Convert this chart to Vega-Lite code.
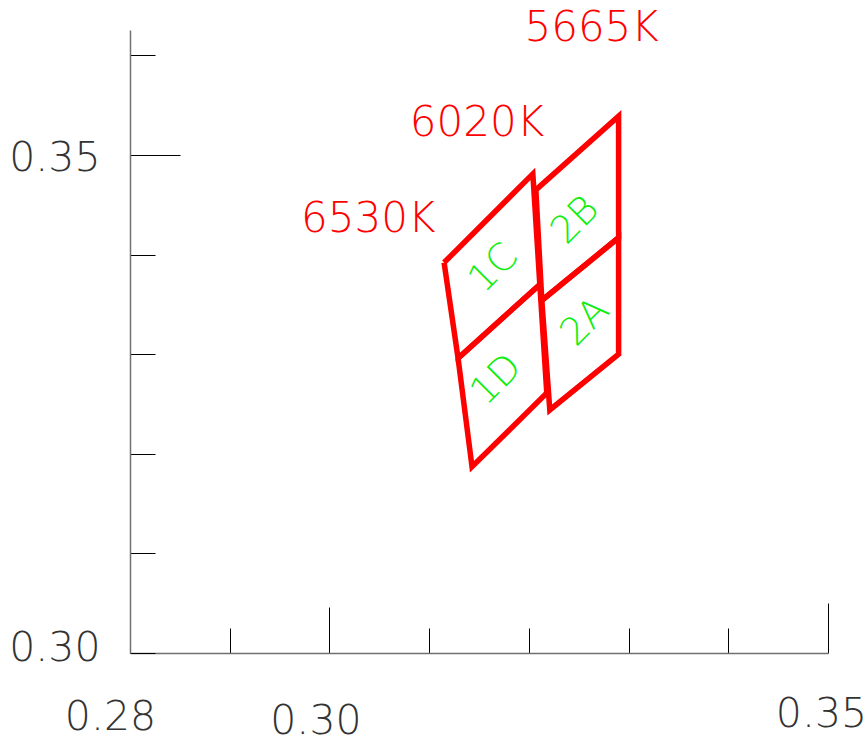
{
  "$schema": "https://vega.github.io/schema/vega-lite/v6.json",
  "width": 698,
  "height": 623,
  "autosize": "none",
  "padding": {"left": 130, "top": 30, "right": 40, "bottom": 91},
  "background": "white",
  "config": {"view": {"stroke": null}, "font": "DejaVu Sans"},
  "datasets": {
    "bins": [
      {"bin": "1C", "i": 0, "x": 0.3115, "y": 0.3392},
      {"bin": "1C", "i": 1, "x": 0.3204, "y": 0.3481},
      {"bin": "1C", "i": 2, "x": 0.3211, "y": 0.3370},
      {"bin": "1C", "i": 3, "x": 0.3129, "y": 0.3296},
      {"bin": "1C", "i": 4, "x": 0.3115, "y": 0.3392},
      {"bin": "1D", "i": 0, "x": 0.3129, "y": 0.3296},
      {"bin": "1D", "i": 1, "x": 0.3211, "y": 0.3370},
      {"bin": "1D", "i": 2, "x": 0.3218, "y": 0.3261},
      {"bin": "1D", "i": 3, "x": 0.3143, "y": 0.3187},
      {"bin": "1D", "i": 4, "x": 0.3129, "y": 0.3296},
      {"bin": "2B", "i": 0, "x": 0.3207, "y": 0.3465},
      {"bin": "2B", "i": 1, "x": 0.3290, "y": 0.3539},
      {"bin": "2B", "i": 2, "x": 0.3290, "y": 0.3417},
      {"bin": "2B", "i": 3, "x": 0.3213, "y": 0.3354},
      {"bin": "2B", "i": 4, "x": 0.3207, "y": 0.3465},
      {"bin": "2A", "i": 0, "x": 0.3213, "y": 0.3354},
      {"bin": "2A", "i": 1, "x": 0.3290, "y": 0.3417},
      {"bin": "2A", "i": 2, "x": 0.3290, "y": 0.3300},
      {"bin": "2A", "i": 3, "x": 0.3221, "y": 0.3244},
      {"bin": "2A", "i": 4, "x": 0.3213, "y": 0.3354}
    ],
    "cct": [
      {"label": "6530K", "x": 0.3039, "y": 0.3436},
      {"label": "6020K", "x": 0.3148, "y": 0.3532},
      {"label": "5665K", "x": 0.3263, "y": 0.3628}
    ],
    "binlabels": [
      {"label": "1C", "x": 0.3165, "y": 0.3386},
      {"label": "1D", "x": 0.3168, "y": 0.3274},
      {"label": "2B", "x": 0.3247, "y": 0.3434},
      {"label": "2A", "x": 0.3257, "y": 0.3332}
    ]
  },
  "encoding": {
    "x": {
      "field": "x",
      "type": "quantitative",
      "scale": {"domain": [0.28, 0.35], "zero": false, "nice": false},
      "axis": {
        "values": [0.28, 0.29, 0.3, 0.31, 0.32, 0.33, 0.34, 0.35],
        "title": null,
        "grid": false,
        "domainColor": "#707070",
        "domainWidth": 1.5,
        "tickColor": "#000000",
        "tickWidth": 1,
        "tickSize": {"condition": [{"test": "abs(datum.value-0.35)<1e-6", "value": -50}, {"test": "abs(datum.value-0.3)<1e-6", "value": -46}], "value": -25},
        "labelExpr": "(abs(datum.value-0.28)<1e-6 || abs(datum.value-0.3)<1e-6 || abs(datum.value-0.35)<1e-6) ? format(datum.value, '.2f') : ''",
        "labelFont": "DejaVu Sans",
        "labelFontWeight": 200,
        "labelFontSize": 41,
        "labelColor": "#333333",
        "labelAlign": "center",
        "labelBaseline": "top",
        "labelPadding": {"condition": [{"test": "abs(datum.value-0.35)<1e-6", "value": 91}, {"test": "abs(datum.value-0.3)<1e-6", "value": 94}], "value": 69},
        "labelOffset": {"condition": [{"test": "datum.value<0.285", "value": -20}, {"test": "datum.value<0.32", "value": -14}], "value": -7},
        "labelFlush": false,
        "labelOverlap": false,
        "labelBound": false
      }
    },
    "y": {
      "field": "y",
      "type": "quantitative",
      "scale": {"domain": [0.3, 0.36255], "zero": false, "nice": false},
      "axis": {
        "values": [0.3, 0.31, 0.32, 0.33, 0.34, 0.35, 0.36],
        "title": null,
        "grid": false,
        "domainColor": "#707070",
        "domainWidth": 1.5,
        "tickColor": "#000000",
        "tickWidth": 1,
        "tickSize": {"condition": {"test": "abs(datum.value-0.35)<1e-6", "value": -50}, "value": -25},
        "labelExpr": "(abs(datum.value-0.3)<1e-6 || abs(datum.value-0.35)<1e-6) ? format(datum.value, '.2f') : ''",
        "labelFont": "DejaVu Sans",
        "labelFontWeight": 200,
        "labelFontSize": 41,
        "labelColor": "#333333",
        "labelAlign": "right",
        "labelBaseline": "middle",
        "labelPadding": {"condition": {"test": "abs(datum.value-0.35)<1e-6", "value": 80}, "value": 55},
        "labelOffset": {"condition": {"test": "abs(datum.value-0.35)<1e-6", "value": 4}, "value": -5},
        "labelFlush": false,
        "labelOverlap": false,
        "labelBound": false
      }
    }
  },
  "layer": [
    {
      "data": {"name": "bins"},
      "mark": {"type": "line", "color": "#ff0000", "strokeWidth": 5.5, "strokeJoin": "miter"},
      "encoding": {
        "detail": {"field": "bin"},
        "order": {"field": "i", "type": "quantitative"}
      }
    },
    {
      "data": {"name": "cct"},
      "mark": {"type": "text", "color": "#ff0000", "font": "DejaVu Sans", "fontSize": 42, "fontWeight": 200, "align": "center", "baseline": "middle"},
      "encoding": {"text": {"field": "label"}}
    },
    {
      "data": {"name": "binlabels"},
      "mark": {"type": "text", "color": "#11ee11", "font": "DejaVu Sans", "fontSize": 38, "fontWeight": 200, "angle": 315, "align": "center", "baseline": "middle"},
      "encoding": {"text": {"field": "label"}}
    }
  ]
}
